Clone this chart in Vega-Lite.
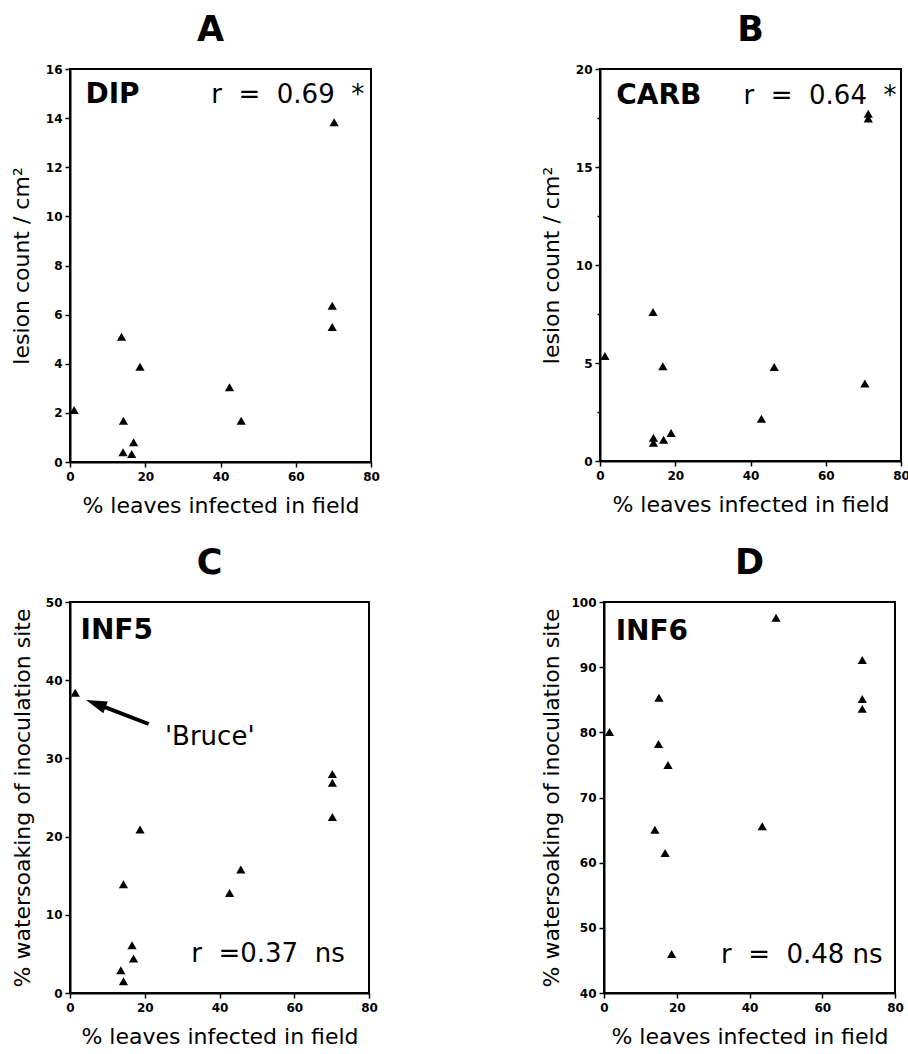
{
  "$schema": "https://vega.github.io/schema/vega-lite/v6.json",
  "background": "white",
  "padding": {"left": 9, "top": 12, "right": 0, "bottom": 0},
  "datasets": {
    "A": [{"x":1.1,"y":2.12},{"x":13.7,"y":5.1},{"x":14.2,"y":1.68},{"x":14.1,"y":0.4},{"x":16.4,"y":0.33},{"x":16.9,"y":0.8},{"x":18.6,"y":3.88},{"x":42.4,"y":3.04},{"x":45.5,"y":1.68},{"x":70.2,"y":13.83},{"x":69.7,"y":6.36},{"x":69.7,"y":5.5}],
    "B": [{"x":1.3,"y":5.36},{"x":14.1,"y":7.6},{"x":16.7,"y":4.83},{"x":14.2,"y":1.19},{"x":14.2,"y":0.93},{"x":16.9,"y":1.09},{"x":18.9,"y":1.43},{"x":42.9,"y":2.16},{"x":46.3,"y":4.8},{"x":70.4,"y":3.95},{"x":71.3,"y":17.72},{"x":71.3,"y":17.47}],
    "C": [{"x":1.4,"y":38.4},{"x":14.3,"y":13.9},{"x":13.6,"y":2.9},{"x":14.3,"y":1.5},{"x":16.6,"y":6.1},{"x":17.0,"y":4.4},{"x":18.75,"y":20.9},{"x":42.7,"y":12.8},{"x":45.7,"y":15.8},{"x":70.2,"y":28.0},{"x":70.2,"y":26.9},{"x":70.2,"y":22.5}],
    "D": [{"x":1.5,"y":80.05},{"x":15.1,"y":85.3},{"x":15.0,"y":78.2},{"x":14.0,"y":65.05},{"x":17.6,"y":75.0},{"x":16.8,"y":61.5},{"x":18.6,"y":46.0},{"x":43.5,"y":65.6},{"x":47.3,"y":97.6},{"x":71.0,"y":91.1},{"x":71.0,"y":85.1},{"x":71.0,"y":83.6}],
    "labA": [{"kind":"name","label":"DIP","x":4.1,"y":14.6},{"kind":"stat","label":"r\u00a0 =\u00a0 0.69\u00a0 *","x":78.2,"y":14.6}],
    "labB": [{"kind":"name","label":"CARB","x":4.3,"y":18.2},{"kind":"stat","label":"r\u00a0 =\u00a0 0.64\u00a0 *","x":78.8,"y":18.2}],
    "labC": [{"kind":"name","label":"INF5","x":2.8,"y":45.3},{"kind":"stat","label":"r\u00a0 =0.37\u00a0 ns","x":73.5,"y":3.96},{"kind":"note","label":"'Bruce'","x":25.4,"y":31.7}],
    "labD": [{"kind":"name","label":"INF6","x":3.2,"y":94.2},{"kind":"stat","label":"r\u00a0 =\u00a0 0.48 ns","x":76.6,"y":44.6}],
    "arrC": [{"x":21.05,"y":34.4,"x2":6.9,"y2":37.0}]
  },
  "vconcat": [
    {
      "hconcat": [
        {
          "width": 301, "height": 393,
          "title": {"text": "A", "dx": -10},
          "layer": [
            {"data": {"name": "A"},
             "mark": {"type": "point", "shape": "triangle-up", "filled": true, "size": 85, "color": "black", "opacity": 1},
             "encoding": {
               "x": {"field": "x", "type": "quantitative", "scale": {"domain": [0, 80], "nice": false},
                     "axis": {"title": "% leaves infected in field", "values": [0,10,20,30,40,50,60,70,80], "labelExpr": "datum.value % 20 === 0 ? datum.label : ''", "tickSize": {"condition": {"test": "datum.value % 20 === 0", "value": 5}, "value": 3}}},
               "y": {"field": "y", "type": "quantitative", "scale": {"domain": [0, 16], "nice": false},
                     "axis": {"title": "lesion count / cm²", "titlePadding": 12, "values": [0,1,2,3,4,5,6,7,8,9,10,11,12,13,14,15,16], "labelExpr": "datum.value % 2 === 0 ? datum.label : ''", "tickSize": {"condition": {"test": "datum.value % 2 === 0", "value": 5}, "value": 3}}}
             }},
            {"data": {"name": "labA"}, "transform": [{"filter": "datum.kind === 'name'"}],
             "mark": {"type": "text", "font": "DejaVu Sans", "fontWeight": "bold", "fontSize": 28, "align": "left", "baseline": "alphabetic", "color": "black"},
             "encoding": {"x": {"field": "x", "type": "quantitative", "scale": {"domain": [0, 80], "nice": false}}, "y": {"field": "y", "type": "quantitative", "scale": {"domain": [0, 16], "nice": false}}, "text": {"field": "label"}}},
            {"data": {"name": "labA"}, "transform": [{"filter": "datum.kind === 'stat'"}],
             "mark": {"type": "text", "font": "DejaVu Sans", "fontWeight": "normal", "fontSize": 26, "align": "right", "baseline": "alphabetic", "color": "black"},
             "encoding": {"x": {"field": "x", "type": "quantitative", "scale": {"domain": [0, 80], "nice": false}}, "y": {"field": "y", "type": "quantitative", "scale": {"domain": [0, 16], "nice": false}}, "text": {"field": "label"}}}
          ]
        },
        {
          "width": 301, "height": 392,
          "title": {"text": "B"},
          "layer": [
            {"data": {"name": "B"},
             "mark": {"type": "point", "shape": "triangle-up", "filled": true, "size": 85, "color": "black", "opacity": 1},
             "encoding": {
               "x": {"field": "x", "type": "quantitative", "scale": {"domain": [0, 80], "nice": false},
                     "axis": {"title": "% leaves infected in field", "values": [0,10,20,30,40,50,60,70,80], "labelExpr": "datum.value % 20 === 0 ? datum.label : ''", "tickSize": {"condition": {"test": "datum.value % 20 === 0", "value": 5}, "value": 3}}},
               "y": {"field": "y", "type": "quantitative", "scale": {"domain": [0, 20], "nice": false},
                     "axis": {"title": "lesion count / cm²", "titlePadding": 12, "values": [0,2.5,5,7.5,10,12.5,15,17.5,20], "labelExpr": "datum.value % 5 === 0 ? datum.label : ''", "tickSize": {"condition": {"test": "datum.value % 5 === 0", "value": 5}, "value": 3}}}
             }},
            {"data": {"name": "labB"}, "transform": [{"filter": "datum.kind === 'name'"}],
             "mark": {"type": "text", "font": "DejaVu Sans", "fontWeight": "bold", "fontSize": 28, "align": "left", "baseline": "alphabetic", "color": "black"},
             "encoding": {"x": {"field": "x", "type": "quantitative", "scale": {"domain": [0, 80], "nice": false}}, "y": {"field": "y", "type": "quantitative", "scale": {"domain": [0, 20], "nice": false}}, "text": {"field": "label"}}},
            {"data": {"name": "labB"}, "transform": [{"filter": "datum.kind === 'stat'"}],
             "mark": {"type": "text", "font": "DejaVu Sans", "fontWeight": "normal", "fontSize": 26, "align": "right", "baseline": "alphabetic", "color": "black"},
             "encoding": {"x": {"field": "x", "type": "quantitative", "scale": {"domain": [0, 80], "nice": false}}, "y": {"field": "y", "type": "quantitative", "scale": {"domain": [0, 20], "nice": false}}, "text": {"field": "label"}}}
          ]
        }
      ],
      "spacing": 158
    },
    {
      "hconcat": [
        {
          "width": 299, "height": 391,
          "title": {"text": "C", "dx": -10},
          "layer": [
            {"data": {"name": "C"},
             "mark": {"type": "point", "shape": "triangle-up", "filled": true, "size": 85, "color": "black", "opacity": 1},
             "encoding": {
               "x": {"field": "x", "type": "quantitative", "scale": {"domain": [0, 80], "nice": false},
                     "axis": {"title": "% leaves infected in field", "values": [0,10,20,30,40,50,60,70,80], "labelExpr": "datum.value % 20 === 0 ? datum.label : ''", "tickSize": {"condition": {"test": "datum.value % 20 === 0", "value": 5}, "value": 3}}},
               "y": {"field": "y", "type": "quantitative", "scale": {"domain": [0, 50], "nice": false},
                     "axis": {"title": "% watersoaking of inoculation site", "titlePadding": 11, "values": [0,5,10,15,20,25,30,35,40,45,50], "labelExpr": "datum.value % 10 === 0 ? datum.label : ''", "tickSize": {"condition": {"test": "datum.value % 10 === 0", "value": 5}, "value": 3}}}
             }},
            {"data": {"name": "arrC"},
             "mark": {"type": "rule", "color": "black", "strokeWidth": 4},
             "encoding": {"x": {"field": "x", "type": "quantitative", "scale": {"domain": [0, 80], "nice": false}}, "y": {"field": "y", "type": "quantitative", "scale": {"domain": [0, 50], "nice": false}}, "x2": {"field": "x2"}, "y2": {"field": "y2"}}},
            {"data": {"name": "arrC"},
             "mark": {"type": "point", "shape": "M -1 0 L 1 -0.6 L 1 0.6 Z", "filled": true, "size": 441, "angle": 21, "color": "black", "opacity": 1},
             "encoding": {"x": {"field": "x2", "type": "quantitative", "scale": {"domain": [0, 80], "nice": false}}, "y": {"field": "y2", "type": "quantitative", "scale": {"domain": [0, 50], "nice": false}}}},
            {"data": {"name": "labC"}, "transform": [{"filter": "datum.kind === 'name'"}],
             "mark": {"type": "text", "font": "DejaVu Sans", "fontWeight": "bold", "fontSize": 28, "align": "left", "baseline": "alphabetic", "color": "black"},
             "encoding": {"x": {"field": "x", "type": "quantitative", "scale": {"domain": [0, 80], "nice": false}}, "y": {"field": "y", "type": "quantitative", "scale": {"domain": [0, 50], "nice": false}}, "text": {"field": "label"}}},
            {"data": {"name": "labC"}, "transform": [{"filter": "datum.kind === 'stat'"}],
             "mark": {"type": "text", "font": "DejaVu Sans", "fontWeight": "normal", "fontSize": 26, "align": "right", "baseline": "alphabetic", "color": "black"},
             "encoding": {"x": {"field": "x", "type": "quantitative", "scale": {"domain": [0, 80], "nice": false}}, "y": {"field": "y", "type": "quantitative", "scale": {"domain": [0, 50], "nice": false}}, "text": {"field": "label"}}},
            {"data": {"name": "labC"}, "transform": [{"filter": "datum.kind === 'note'"}],
             "mark": {"type": "text", "font": "DejaVu Sans", "fontWeight": "normal", "fontSize": 26, "align": "left", "baseline": "alphabetic", "color": "black"},
             "encoding": {"x": {"field": "x", "type": "quantitative", "scale": {"domain": [0, 80], "nice": false}}, "y": {"field": "y", "type": "quantitative", "scale": {"domain": [0, 50], "nice": false}}, "text": {"field": "label"}}}
          ]
        },
        {
          "width": 291, "height": 391,
          "title": {"text": "D"},
          "layer": [
            {"data": {"name": "D"},
             "mark": {"type": "point", "shape": "triangle-up", "filled": true, "size": 85, "color": "black", "opacity": 1},
             "encoding": {
               "x": {"field": "x", "type": "quantitative", "scale": {"domain": [0, 80], "nice": false},
                     "axis": {"title": "% leaves infected in field", "values": [0,10,20,30,40,50,60,70,80], "labelExpr": "datum.value % 20 === 0 ? datum.label : ''", "tickSize": {"condition": {"test": "datum.value % 20 === 0", "value": 5}, "value": 3}}},
               "y": {"field": "y", "type": "quantitative", "scale": {"domain": [40, 100], "nice": false, "zero": false},
                     "axis": {"title": "% watersoaking of inoculation site", "titlePadding": 7, "values": [40,45,50,55,60,65,70,75,80,85,90,95,100], "labelExpr": "datum.value % 10 === 0 ? datum.label : ''", "tickSize": {"condition": {"test": "datum.value % 10 === 0", "value": 5}, "value": 3}}}
             }},
            {"data": {"name": "labD"}, "transform": [{"filter": "datum.kind === 'name'"}],
             "mark": {"type": "text", "font": "DejaVu Sans", "fontWeight": "bold", "fontSize": 28, "align": "left", "baseline": "alphabetic", "color": "black"},
             "encoding": {"x": {"field": "x", "type": "quantitative", "scale": {"domain": [0, 80], "nice": false}}, "y": {"field": "y", "type": "quantitative", "scale": {"domain": [40, 100], "nice": false, "zero": false}}, "text": {"field": "label"}}},
            {"data": {"name": "labD"}, "transform": [{"filter": "datum.kind === 'stat'"}],
             "mark": {"type": "text", "font": "DejaVu Sans", "fontWeight": "normal", "fontSize": 26, "align": "right", "baseline": "alphabetic", "color": "black"},
             "encoding": {"x": {"field": "x", "type": "quantitative", "scale": {"domain": [0, 80], "nice": false}}, "y": {"field": "y", "type": "quantitative", "scale": {"domain": [40, 100], "nice": false, "zero": false}}, "text": {"field": "label"}}}
          ]
        }
      ],
      "spacing": 160
    }
  ],
  "spacing": 28,
  "config": {
    "font": "DejaVu Sans",
    "view": {"stroke": "black", "strokeWidth": 2},
    "axis": {
      "grid": false,
      "domainColor": "black", "domainWidth": 2,
      "tickColor": "black", "tickWidth": 1.5,
      "labelFont": "DejaVu Sans", "labelFontWeight": "bold", "labelFontSize": 12, "labelColor": "black", "labelFlush": false, "labelOverlap": false, "labelPadding": 3,
      "titleFont": "DejaVu Sans", "titleFontSize": 22, "titleFontWeight": "normal", "titleColor": "black"
    },
    "axisX": {"titlePadding": 13, "labelPadding": 4},
    "title": {"font": "DejaVu Sans", "fontSize": 35, "fontWeight": "bold", "color": "black", "anchor": "middle", "offset": 15}
  }
}
